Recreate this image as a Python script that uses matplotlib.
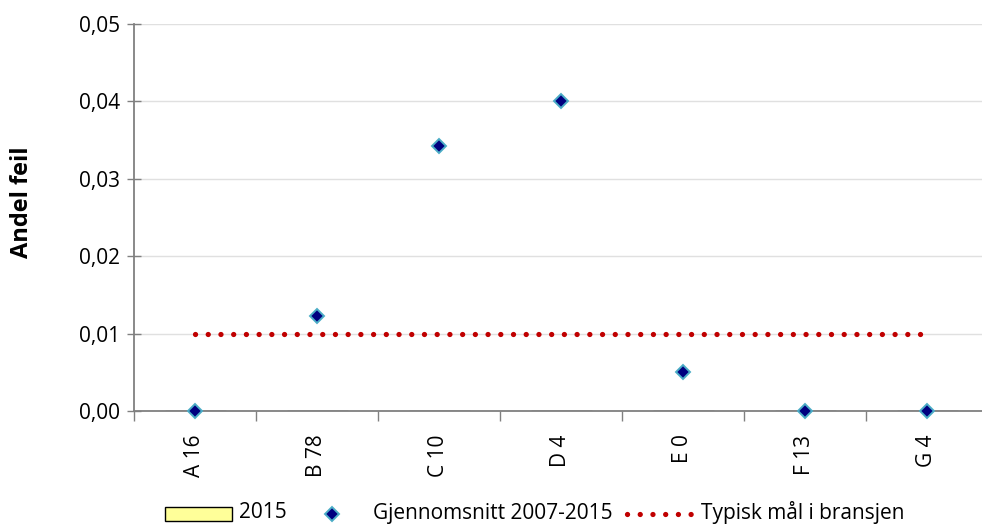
import numpy as np
import matplotlib.pyplot as plt
from matplotlib.patches import Rectangle
from matplotlib.lines import Line2D

plt.rcParams['font.family'] = ['Open Sans', 'DejaVu Sans']

categories = ['A 16', 'B 78', 'C 10', 'D 4', 'E 0', 'F 13', 'G 4']
year_2015 = [0, 0, 0, 0, 0, 0, 0]
avg_2007_2015 = [0.0, 0.01227, 0.03424, 0.040, 0.00504, 0.0, 0.0]
target = [0.01] * len(categories)
yticks = [0.0, 0.01, 0.02, 0.03, 0.04, 0.05]
legend_labels = ['2015', 'Gjennomsnitt 2007-2015', 'Typisk mål i bransjen']

W, H = 982, 526
fig = plt.figure(figsize=(W / 100, H / 100), dpi=100)
ax = fig.add_axes([134 / W, 1 - 411 / H, 854 / W, 387 / H])

bar_color = '#ffff99'
diamond = dict(marker='D', markersize=7.5, markerfacecolor='#000080',
               markeredgecolor='#4bacc6', markeredgewidth=1.4)
dots = dict(linestyle=(0, (0.01, 2.4)), dash_capstyle='round',
            color='#c00000', linewidth=3.8)

x = np.arange(len(categories))
ax.bar(x, year_2015, width=0.5, color=bar_color, edgecolor='black', linewidth=1)
ax.plot(x, target, zorder=3, **dots)
ax.plot(x, avg_2007_2015, linestyle='none', zorder=4, clip_on=False, **diamond)

ax.set_xlim(-0.5, len(categories) - 0.5)
ax.set_ylim(0, 0.05)
ax.set_yticks(yticks)
ax.set_yticklabels([f'{v:.2f}'.replace('.', ',') for v in yticks], fontsize=15)
ax.yaxis.grid(True, color='#e0e0e0', linewidth=1)
ax.set_axisbelow(True)
ax.tick_params(axis='y', direction='inout', length=10, width=1, color='#808080', pad=5)

ax.set_xticks(x)
ax.set_xticklabels(categories, rotation=90, fontsize=15)
ax.set_xticks(np.arange(len(categories) + 1) - 0.5, minor=True)
ax.tick_params(axis='x', which='major', length=0, pad=17)
ax.tick_params(axis='x', which='minor', length=7, width=1, color='#808080')

for side in ['top', 'right']:
    ax.spines[side].set_visible(False)
for side in ['left', 'bottom']:
    ax.spines[side].set_color('#808080')
    ax.spines[side].set_linewidth(1.3)

ax.set_ylabel('Andel feil', fontsize=17, fontweight='bold')
ax.yaxis.set_label_coords(-0.117, 0.54)

# legend row along the bottom edge, laid out in pixel positions
def fx(px):
    return px / W

def fy(py):
    return 1 - py / H

fig.patches.append(Rectangle((fx(165), fy(521)), fx(232) - fx(165), fy(507) - fy(521),
                             transform=fig.transFigure, facecolor=bar_color,
                             edgecolor='black', linewidth=1))
fig.lines.append(Line2D([fx(332)], [fy(514)], transform=fig.transFigure,
                        linestyle='none', **diamond))
fig.lines.append(Line2D([fx(627), fx(692)], [fy(514)] * 2, transform=fig.transFigure, **dots))
for px, label in zip([239, 373, 701], legend_labels):
    fig.text(fx(px), fy(513), label, fontsize=15, va='center', ha='left')

fig.savefig('out.png', dpi=100)
